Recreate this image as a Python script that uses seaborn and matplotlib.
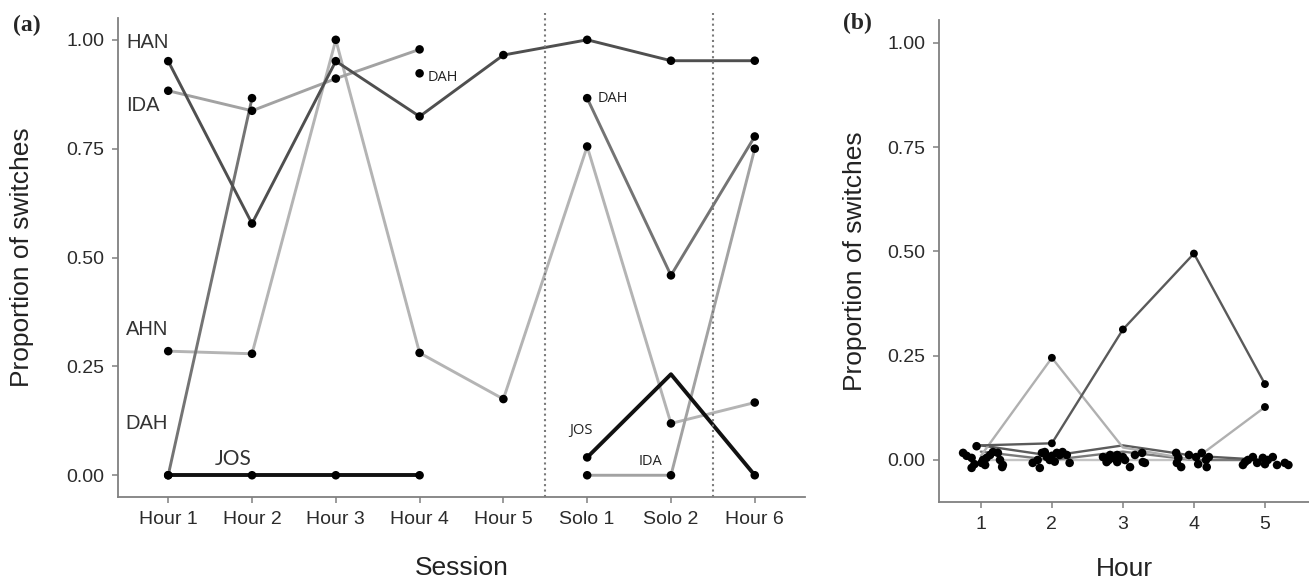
import numpy as np
import pandas as pd
import seaborn as sns
import matplotlib.pyplot as plt

# ---- data, panel (a) ----
sessions = ["Hour 1", "Hour 2", "Hour 3", "Hour 4", "Hour 5", "Solo 1", "Solo 2", "Hour 6"]
nan = np.nan
han = [0.951, 0.578, 0.951, 0.824, 0.965, 1.000, 0.952, 0.952]
ida = [0.883, 0.837, 0.911, 0.978, nan, 0.000, 0.000, 0.750]
ahn = [0.285, 0.279, 1.000, 0.281, 0.175, 0.755, 0.119, 0.167]
dah = [0.000, 0.866, nan, 0.923, nan, 0.866, 0.459, 0.778]
jos = [0.000, 0.000, 0.000, 0.000, nan, 0.041, 0.232, 0.000]

# ---- data, panel (b) ----
hours = [1, 2, 3, 4, 5]
b_dark = [0.035, 0.040, 0.313, 0.495, 0.182]
b_light = [0.010, 0.245, 0.030, 0.000, 0.127]
b_mid1 = [0.035, 0.010, 0.035, 0.010, 0.000]
b_mid2 = [0.020, 0.000, 0.020, 0.000, 0.000]
b_zero = [0.000, 0.000, 0.000, 0.000, 0.000]
# jittered points near zero (offset from each hour, value)
jit_dx = {
    1: [-0.25, -0.2, -0.13, -0.06, 0.01, 0.03, 0.06, -0.13, 0.13, 0.17, 0.24, 0.27, 0.31, 0.30, -0.09, 0.08],
    2: [-0.27, -0.2, -0.17, -0.14, -0.1, -0.07, -0.03, 0.07, 0.11, 0.15, 0.21, 0.25, 0.0, 0.04],
    3: [-0.28, -0.23, -0.18, -0.15, -0.08, -0.08, 0.0, 0.03, 0.1, 0.17, 0.27, 0.28, 0.31, -0.2],
    4: [-0.25, -0.24, -0.18, -0.07, 0.03, 0.11, 0.17, 0.18, 0.21, -0.22, 0.06],
    5: [-0.31, -0.24, -0.17, -0.11, -0.03, 0.04, 0.11, 0.17, 0.28, 0.33, -0.28, 0.0],
}
jit_dy = {
    1: [0.017, 0.01, 0.005, 0.033, -0.007, 0.0, -0.012, -0.019, 0.012, 0.019, 0.017, 0.0, -0.012, -0.017, -0.01, 0.005],
    2: [-0.007, 0.0, -0.019, 0.017, 0.019, 0.007, 0.0, 0.017, 0.012, 0.019, 0.012, -0.007, 0.01, -0.004],
    3: [0.007, -0.005, 0.012, 0.005, 0.012, -0.005, 0.007, 0.0, -0.017, 0.012, 0.017, -0.005, -0.007, 0.0],
    4: [0.017, -0.007, -0.017, 0.012, 0.007, 0.017, 0.0, -0.017, 0.007, 0.005, -0.01],
    5: [-0.012, 0.0, 0.007, -0.007, 0.005, 0.0, 0.007, -0.012, -0.007, -0.012, -0.005, -0.01],
}

sns.set_theme(style="ticks")
plt.rcParams['font.family'] = ['Liberation Sans', 'DejaVu Sans']

fig = plt.figure(figsize=(13.09, 5.82), dpi=100)
ax1 = fig.add_axes([0.0901, 0.146, 0.5249, 0.823])
ax2 = fig.add_axes([0.7173, 0.138, 0.2827, 0.8276])

# long table, split into unbroken segments so gaps stay gaps
colors = {"HAN": "#4f4f4f", "IDA": "#a2a2a2", "AHN": "#b4b4b4", "DAH": "#747474", "JOS": "#111111"}
series = {"HAN": han, "IDA": ida, "AHN": ahn, "DAH": dah, "JOS": jos}
rows = []
for name, vals in series.items():
    seg = 0
    for i, v in enumerate(vals):
        if np.isnan(v):
            seg += 1
            continue
        rows.append({"x": i, "value": v, "who": name, "seg": f"{name}{seg}"})
df = pd.DataFrame(rows)

for name in ["AHN", "IDA", "DAH", "HAN", "JOS"]:
    sub = df[df["who"] == name]
    sns.lineplot(data=sub, x="x", y="value", units="seg", estimator=None,
                 color=colors[name], lw=2.8 if name == "JOS" else 2.1, ax=ax1)

# no dot on the JOS peak in Solo 2
dots = df[~((df["who"] == "JOS") & (df["x"] == sessions.index("Solo 2")))]
sns.scatterplot(data=dots, x="x", y="value", color="black", s=38, edgecolor="none", ax=ax1, zorder=5)

ax1.axvline(4.5, color="#7a7a7a", ls=(0, (1, 1.6)), lw=1.5, ymax=1.01, clip_on=False)
ax1.axvline(6.5, color="#7a7a7a", ls=(0, (1, 1.6)), lw=1.5, ymax=1.01, clip_on=False)

big = dict(fontsize=14.5, color="#333333", ha="left", va="center")
ax1.text(-0.50, 0.993, "HAN", **big)
ax1.text(-0.50, 0.849, "IDA", **big)
ax1.text(-0.51, 0.334, "AHN", **big)
ax1.text(-0.51, 0.118, "DAH", **big)
ax1.text(0.78, 0.038, "JOS", fontsize=15, color="#333333", ha="center", va="center", family=["Lato", "DejaVu Sans"])
small = dict(fontsize=10.5, color="#222222", va="center", family=["Open Sans", "DejaVu Sans"])
ax1.text(3.09, 0.914, "DAH", ha="left", **small)
ax1.text(5.13, 0.866, "DAH", ha="left", **small)
ax1.text(4.92, 0.103, "JOS", ha="center", **small)
ax1.text(5.75, 0.032, "IDA", ha="center", **small)

ax1.set_xlim(-0.6, 7.6)
ax1.set_ylim(-0.05, 1.05)
ax1.set_xticks(range(len(sessions)), sessions)
ax1.set_yticks([0, 0.25, 0.5, 0.75, 1.0], ["0.00", "0.25", "0.50", "0.75", "1.00"])

# ---- panel (b) ----
bcols = [("#c4c4c4", b_zero), ("#7a7a7a", b_mid2), ("#5c5c5c", b_mid1), ("#b0b0b0", b_light), ("#5a5a5a", b_dark)]
for c, vals in bcols:
    sns.lineplot(x=hours, y=vals, color=c, lw=1.7, ax=ax2)
big_vals = pd.DataFrame({"x": hours * 2, "value": b_dark + b_light})
big_vals = big_vals[big_vals["value"] > 0.035]
sns.scatterplot(data=big_vals, x="x", y="value", color="black", s=32, edgecolor="none", ax=ax2, zorder=5)

jx, jy = [], []
for h in hours:
    jx += [h + d for d in jit_dx[h]]
    jy += jit_dy[h]
sns.scatterplot(x=jx, y=jy, color="black", s=38, edgecolor="none", ax=ax2, zorder=5)

ax2.set_xlim(0.41, 5.62)
ax2.set_ylim(-0.1, 1.055)
ax2.set_xticks(hours, [str(h) for h in hours])
ax2.set_yticks([0, 0.25, 0.5, 0.75, 1.0], ["0.00", "0.25", "0.50", "0.75", "1.00"])

for ax in (ax1, ax2):
    sns.despine(ax=ax)
    for sp in ("left", "bottom"):
        ax.spines[sp].set_linewidth(1.3)
        ax.spines[sp].set_color("#808080")
    ax.tick_params(length=4, width=1.1, pad=6, labelsize=14, color="#808080", labelcolor="#2b2b2b")
    ax.set_ylabel("Proportion of switches", fontsize=19, color="#222222")

ax1.set_xlabel("Session", fontsize=19, color="#222222")
ax2.set_xlabel("Hour", fontsize=19, color="#222222")
ax1.yaxis.set_label_coords(-0.122, 0.5)
ax2.yaxis.set_label_coords(-0.195, 0.5)
ax1.xaxis.set_label_coords(0.5, -0.123)
ax2.xaxis.set_label_coords(0.5, -0.115)

fig.text(0.0206, 0.957, "(a)", fontsize=17, fontweight="bold", family=["Liberation Serif", "DejaVu Serif"], ha="center", va="center")
fig.text(0.6547, 0.960, "(b)", fontsize=17, fontweight="bold", family=["Liberation Serif", "DejaVu Serif"], ha="center", va="center")

fig.savefig("out.png", dpi=100)
